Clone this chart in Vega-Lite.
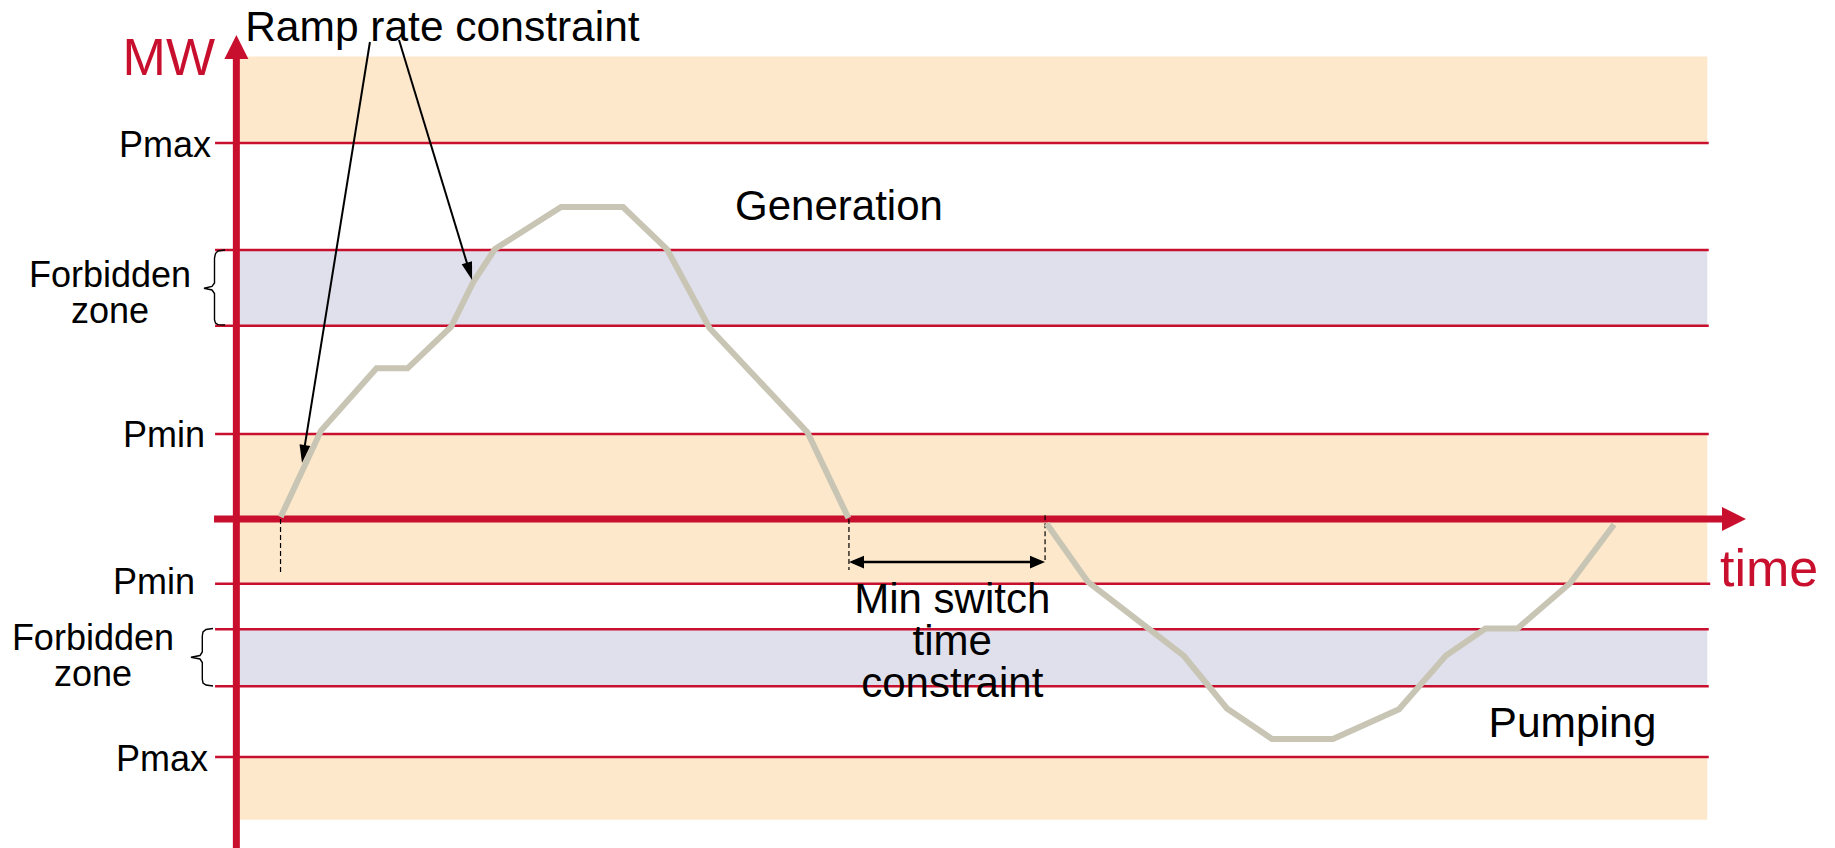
{
  "$schema": "https://vega.github.io/schema/vega-lite/v6.json",
  "width": 1835,
  "height": 848,
  "padding": 0,
  "autosize": {"type": "none"},
  "background": "white",
  "config": {"view": {"stroke": null}, "text": {"font": "Liberation Sans"}},
  "datasets": {
    "bands": [
      {"zone": "limit", "t": 0, "t2": 100.2, "v": 100, "v2": 123},
      {"zone": "forbidden", "t": 0, "t2": 100.2, "v": 51.4, "v2": 71.5},
      {"zone": "limit", "t": 0, "t2": 100.2, "v": -17.2, "v2": 22.6},
      {"zone": "forbidden", "t": 0, "t2": 100.2, "v": -44.5, "v2": -29.3},
      {"zone": "limit", "t": 0, "t2": 100.2, "v": -80, "v2": -63.3}
    ],
    "levels": [
      {"name": "Pmax generation", "t": -1.45, "t2": 100.3, "v": 100},
      {"name": "Forbidden generation top", "t": -1.45, "t2": 100.3, "v": 71.5},
      {"name": "Forbidden generation bottom", "t": -1.45, "t2": 100.3, "v": 51.4},
      {"name": "Pmin generation", "t": -1.45, "t2": 100.3, "v": 22.6},
      {"name": "Pmin pumping", "t": -1.45, "t2": 100.4, "v": -17.2},
      {"name": "Forbidden pumping top", "t": -1.45, "t2": 100.3, "v": -29.3},
      {"name": "Forbidden pumping bottom", "t": -1.45, "t2": 100.3, "v": -44.5},
      {"name": "Pmax pumping", "t": -1.45, "t2": 100.3, "v": -63.3}
    ],
    "axes": [
      {"name": "MW", "t": 0, "t2": 0, "v": -88, "v2": 124.7},
      {"name": "time", "t": -1.52, "t2": 101.75, "v": 0, "v2": 0}
    ],
    "curve": [
      {"mode": "generation", "k": 1, "t": 3.02, "v": 0.5},
      {"mode": "generation", "k": 2, "t": 5.77, "v": 23.5},
      {"mode": "generation", "k": 3, "t": 9.55, "v": 40.06},
      {"mode": "generation", "k": 4, "t": 11.66, "v": 40.06},
      {"mode": "generation", "k": 5, "t": 14.62, "v": 51.05},
      {"mode": "generation", "k": 6, "t": 16.16, "v": 63.15},
      {"mode": "generation", "k": 7, "t": 17.62, "v": 71.79},
      {"mode": "generation", "k": 8, "t": 22.12, "v": 82.96},
      {"mode": "generation", "k": 9, "t": 26.34, "v": 82.96},
      {"mode": "generation", "k": 10, "t": 29.34, "v": 71.7},
      {"mode": "generation", "k": 11, "t": 32.23, "v": 50.78},
      {"mode": "generation", "k": 12, "t": 38.91, "v": 22.99},
      {"mode": "generation", "k": 13, "t": 41.69, "v": 0.26},
      {"mode": "pumping", "k": 1, "t": 55.19, "v": -1.2},
      {"mode": "pumping", "k": 2, "t": 58.01, "v": -16.76},
      {"mode": "pumping", "k": 3, "t": 64.55, "v": -36.44},
      {"mode": "pumping", "k": 4, "t": 67.48, "v": -50.4},
      {"mode": "pumping", "k": 5, "t": 70.55, "v": -58.51},
      {"mode": "pumping", "k": 6, "t": 74.7, "v": -58.51},
      {"mode": "pumping", "k": 7, "t": 79.2, "v": -50.61},
      {"mode": "pumping", "k": 8, "t": 82.4, "v": -36.31},
      {"mode": "pumping", "k": 9, "t": 85.09, "v": -29.13},
      {"mode": "pumping", "k": 10, "t": 87.27, "v": -29.13},
      {"mode": "pumping", "k": 11, "t": 90.85, "v": -17.11},
      {"mode": "pumping", "k": 12, "t": 93.85, "v": -1.47}
    ],
    "braces": [
      {"side": "generation", "k": 1, "t": -0.773, "v": 71.52},
      {"side": "generation", "k": 2, "t": -1.25, "v": 71.26},
      {"side": "generation", "k": 3, "t": -1.42, "v": 70.59},
      {"side": "generation", "k": 4, "t": -1.488, "v": 69.39},
      {"side": "generation", "k": 5, "t": -1.488, "v": 62.75},
      {"side": "generation", "k": 6, "t": -1.659, "v": 61.82},
      {"side": "generation", "k": 7, "t": -2.204, "v": 61.34},
      {"side": "generation", "k": 8, "t": -1.659, "v": 60.89},
      {"side": "generation", "k": 9, "t": -1.488, "v": 59.95},
      {"side": "generation", "k": 10, "t": -1.488, "v": 52.91},
      {"side": "generation", "k": 11, "t": -1.42, "v": 52.11},
      {"side": "generation", "k": 12, "t": -1.25, "v": 51.68},
      {"side": "generation", "k": 13, "t": -0.773, "v": 51.58},
      {"side": "pumping", "k": 1, "t": -1.59, "v": -29.13},
      {"side": "pumping", "k": 2, "t": -2.067, "v": -29.4},
      {"side": "pumping", "k": 3, "t": -2.272, "v": -30.06},
      {"side": "pumping", "k": 4, "t": -2.319, "v": -31.12},
      {"side": "pumping", "k": 5, "t": -2.319, "v": -35.38},
      {"side": "pumping", "k": 6, "t": -2.476, "v": -36.31},
      {"side": "pumping", "k": 7, "t": -3.089, "v": -36.79},
      {"side": "pumping", "k": 8, "t": -2.476, "v": -37.24},
      {"side": "pumping", "k": 9, "t": -2.319, "v": -38.17},
      {"side": "pumping", "k": 10, "t": -2.319, "v": -42.56},
      {"side": "pumping", "k": 11, "t": -2.272, "v": -43.62},
      {"side": "pumping", "k": 12, "t": -2.067, "v": -44.15},
      {"side": "pumping", "k": 13, "t": -1.59, "v": -44.42}
    ],
    "guides": [
      {"name": "start generation", "t": 3.01, "v": 0, "v2": -14.1},
      {"name": "end generation", "t": 41.73, "v": 0, "v2": -13.55},
      {"name": "start pumping", "t": 55.09, "v": 1, "v2": -10.9}
    ],
    "rampArrows": [
      {"name": "ramp up start", "t": 9.1, "v": 126.83, "t2": 4.57, "v2": 17.24},
      {"name": "ramp up forbidden", "t": 11.08, "v": 127.36, "t2": 15.88, "v2": 65.83}
    ],
    "leftLabels": [
      {"text": "Pmax", "t": -1.73, "v": 96.25},
      {"text": "Pmin", "t": -2.14, "v": 19.13},
      {"text": "Pmin", "t": -2.82, "v": -19.95},
      {"text": "Pmax", "t": -1.93, "v": -67.02}
    ],
    "zoneLabels": [
      {"text": ["Forbidden", "zone"], "t": -8.61, "v": 61.69},
      {"text": ["Forbidden", "zone"], "t": -9.77, "v": -34.84}
    ],
    "centerNotes": [
      {"text": ["Generation"], "t": 41.05, "v": 79.5},
      {"text": ["Min switch", "time", "constraint"], "t": 48.77, "v": -25.02}
    ],
    "leftNotes": [
      {"text": "Ramp rate constraint", "t": 0.6, "v": 127.2},
      {"text": "Pumping", "t": 85.3, "v": -58.0}
    ],
    "axisTitles": [
      {"text": "MW", "t": -7.75, "v": 117.93},
      {"text": "time", "t": 101.07, "v": -17.83}
    ]
  },
  "encoding": {
    "x": {"field": "t", "type": "quantitative", "axis": null, "scale": {"domain": [-16.1, 108.9], "nice": false, "zero": false}},
    "y": {"field": "v", "type": "quantitative", "axis": null, "scale": {"domain": [-87.5, 138], "nice": false, "zero": false}}
  },
  "layer": [
    {
      "data": {"name": "bands"},
      "mark": {"type": "rect"},
      "encoding": {
        "x2": {"field": "t2"},
        "y2": {"field": "v2"},
        "color": {"field": "zone", "type": "nominal", "legend": null, "scale": {"domain": ["limit", "forbidden"], "range": ["#FDE8CB", "#E0DFEC"]}}
      }
    },
    {
      "data": {"name": "levels"},
      "mark": {"type": "rule", "color": "#C8102E", "strokeWidth": 2.5},
      "encoding": {
        "x2": {"field": "t2"}
      }
    },
    {
      "data": {"name": "axes"},
      "mark": {"type": "rule", "color": "#C8102E", "strokeWidth": 7},
      "encoding": {
        "x2": {"field": "t2"},
        "y2": {"field": "v2"}
      }
    },
    {
      "data": {"values": [{"name": "MW arrow", "t": 0, "v": 125.5}]},
      "mark": {"type": "point", "shape": "M0,-1L1,1L-1,1Z", "filled": true, "color": "#C8102E", "opacity": 1, "size": 576, "angle": 0}
    },
    {
      "data": {"values": [{"name": "time arrow", "t": 102.02, "v": 0}]},
      "mark": {"type": "point", "shape": "M0,-1L1,1L-1,1Z", "filled": true, "color": "#C8102E", "opacity": 1, "size": 576, "angle": 90}
    },
    {
      "data": {"name": "guides"},
      "mark": {"type": "rule", "color": "black", "strokeWidth": 1.2, "strokeDash": [5, 3]},
      "encoding": {
        "y2": {"field": "v2"}
      }
    },
    {
      "data": {"name": "curve"},
      "mark": {"type": "line", "color": "#C8C5B4", "strokeWidth": 6, "strokeCap": "butt", "strokeJoin": "miter"},
      "encoding": {
        "detail": {"field": "mode"},
        "order": {"field": "k", "type": "quantitative"}
      }
    },
    {
      "data": {"name": "braces"},
      "mark": {"type": "line", "color": "black", "strokeWidth": 1.4, "interpolate": "linear"},
      "encoding": {
        "detail": {"field": "side"},
        "order": {"field": "k", "type": "quantitative"}
      }
    },
    {
      "data": {"name": "rampArrows"},
      "mark": {"type": "rule", "color": "black", "strokeWidth": 2},
      "encoding": {
        "x2": {"field": "t2"},
        "y2": {"field": "v2"}
      }
    },
    {
      "data": {"values": [{"name": "ramp head 1", "t": 4.57, "v": 17.24}]},
      "mark": {"type": "point", "shape": "M0,-1L0.6,1L-0.6,1Z", "filled": true, "color": "black", "opacity": 1, "size": 324, "angle": 189.2}
    },
    {
      "data": {"values": [{"name": "ramp head 2", "t": 15.88, "v": 65.83}]},
      "mark": {"type": "point", "shape": "M0,-1L0.6,1L-0.6,1Z", "filled": true, "color": "black", "opacity": 1, "size": 324, "angle": 163.1}
    },
    {
      "data": {"values": [{"name": "min switch span", "t": 42.0, "t2": 54.8, "v": -11.45}]},
      "mark": {"type": "rule", "color": "black", "strokeWidth": 2.5},
      "encoding": {
        "x2": {"field": "t2"}
      }
    },
    {
      "data": {"values": [{"name": "span head left", "t": 42.245, "v": -11.45}]},
      "mark": {"type": "point", "shape": "M0,-1L0.85,1L-0.85,1Z", "filled": true, "color": "black", "opacity": 1, "size": 225, "angle": 270}
    },
    {
      "data": {"values": [{"name": "span head right", "t": 54.575, "v": -11.45}]},
      "mark": {"type": "point", "shape": "M0,-1L0.85,1L-0.85,1Z", "filled": true, "color": "black", "opacity": 1, "size": 225, "angle": 90}
    },
    {
      "data": {"name": "leftLabels"},
      "mark": {"type": "text", "align": "right", "baseline": "alphabetic", "fontSize": 36, "color": "black"},
      "encoding": {"text": {"field": "text"}}
    },
    {
      "data": {"name": "zoneLabels"},
      "mark": {"type": "text", "align": "center", "baseline": "alphabetic", "fontSize": 36, "lineHeight": 36.5, "color": "black"},
      "encoding": {"text": {"field": "text"}}
    },
    {
      "data": {"name": "centerNotes"},
      "mark": {"type": "text", "align": "center", "baseline": "alphabetic", "fontSize": 42, "lineHeight": 42, "color": "black"},
      "encoding": {"text": {"field": "text"}}
    },
    {
      "data": {"name": "leftNotes"},
      "mark": {"type": "text", "align": "left", "baseline": "alphabetic", "fontSize": 42.5, "color": "black"},
      "encoding": {"text": {"field": "text"}}
    },
    {
      "data": {"name": "axisTitles"},
      "mark": {"type": "text", "align": "left", "baseline": "alphabetic", "fontSize": 52, "color": "#C8102E"},
      "encoding": {"text": {"field": "text"}}
    }
  ]
}
